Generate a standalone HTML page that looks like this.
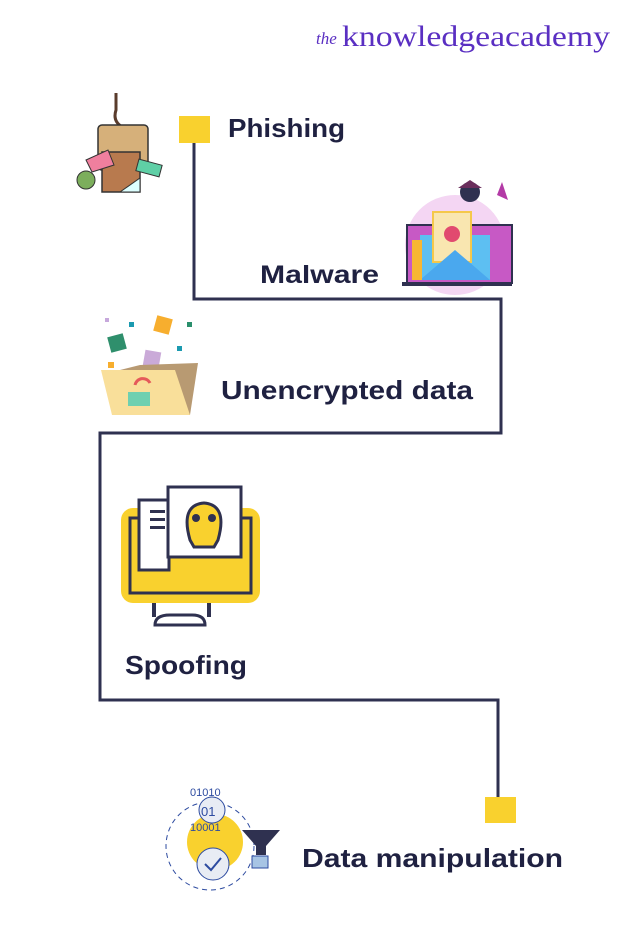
<!DOCTYPE html>
<html><head><meta charset="utf-8"><style>
html,body{margin:0;padding:0;background:#fff;}
svg{display:block;}
text{font-family:"Liberation Sans",sans-serif;font-weight:bold;fill:#1f2141;}
</style></head><body>
<svg width="624" height="937" viewBox="0 0 624 937" xmlns="http://www.w3.org/2000/svg">
<!-- logo -->
<text x="316" y="44" style="font-family:'Liberation Serif',serif;font-weight:normal;fill:#5a2fc2;font-size:17px;font-style:italic">the</text>
<text x="342" y="46" textLength="268" lengthAdjust="spacingAndGlyphs" style="font-family:'Liberation Serif',serif;font-weight:normal;fill:#5a2fc2;font-size:30px">knowledgeacademy</text>

<!-- connector -->
<path d="M194 143 V299 H501 V433 H100 V700 H498 V797" fill="none" stroke="#2f3150" stroke-width="3"/>
<rect x="179" y="116" width="31" height="27" fill="#f9d12e"/>
<rect x="485" y="797" width="31" height="26" fill="#f9d12e"/>

<!-- labels -->
<text x="228" y="137" font-size="26" textLength="117" lengthAdjust="spacingAndGlyphs">Phishing</text>
<text x="260" y="283" font-size="25" textLength="119" lengthAdjust="spacingAndGlyphs">Malware</text>
<text x="221" y="399" font-size="26" textLength="252" lengthAdjust="spacingAndGlyphs">Unencrypted data</text>
<text x="125" y="674" font-size="26" textLength="122" lengthAdjust="spacingAndGlyphs">Spoofing</text>
<text x="302" y="867" font-size="26" textLength="261" lengthAdjust="spacingAndGlyphs">Data manipulation</text>

<!-- phishing icon -->
<path d="M116 93 V110 Q112 122 124 128" fill="none" stroke="#5a3c2c" stroke-width="3"/>
<rect x="98" y="125" width="50" height="45" rx="4" fill="#d6b07a" stroke="#333" stroke-width="1.5"/>
<rect x="102" y="152" width="38" height="40" fill="#b87a4e" stroke="#333" stroke-width="1.5"/>
<path d="M86 160 L108 150 L114 165 L92 172Z" fill="#ef7f9e" stroke="#333"/>
<rect x="137" y="162" width="24" height="12" fill="#5fcfa6" stroke="#333" transform="rotate(15 149 168)"/>
<circle cx="86" cy="180" r="9" fill="#7cae5c" stroke="#333"/>
<path d="M120 192 L140 178 L140 192Z" fill="#dff" stroke="#333"/>

<!-- malware icon -->
<circle cx="455" cy="245" r="50" fill="#f4d6f3"/>
<rect x="407" y="225" width="105" height="58" fill="#c759c5" stroke="#2f3150" stroke-width="2"/>
<path d="M420 235 L490 235 L490 280 L420 280Z" fill="#5dbff2"/>
<rect x="433" y="212" width="38" height="50" fill="#f9e6b0" stroke="#f5c84a" stroke-width="2"/>
<circle cx="452" cy="234" r="8" fill="#e14a6f"/>
<path d="M420 280 L455 250 L490 280" fill="#4aa8ee"/>
<rect x="402" y="282" width="110" height="4" fill="#2f3150"/>
<circle cx="470" cy="192" r="10" fill="#2f3150"/>
<path d="M458 188 L482 188 L470 180Z" fill="#6a2e5c"/>
<path d="M497 195 L502 182 L508 200 Z" fill="#b33aa6"/>
<rect x="412" y="240" width="10" height="40" fill="#f7b733"/>

<!-- folder icon -->
<rect x="105" y="318" width="4" height="4" fill="#c7a8dc"/>
<rect x="129" y="322" width="5" height="5" fill="#1b9ab0"/>
<rect x="155" y="317" width="16" height="16" fill="#f7ae2e" transform="rotate(15 163 325)"/>
<rect x="187" y="322" width="5" height="5" fill="#2a8f6c"/>
<rect x="109" y="335" width="16" height="16" fill="#2f8f6c" transform="rotate(-15 117 343)"/>
<rect x="177" y="346" width="5" height="5" fill="#1b9ab0"/>
<rect x="144" y="351" width="16" height="16" fill="#caaad8" transform="rotate(10 152 359)"/>
<rect x="108" y="362" width="6" height="6" fill="#f7ae2e"/>
<path d="M120 370 L140 365 L198 363 L190 415 L140 415Z" fill="#b89a72"/>
<path d="M101 370 L175 370 L190 415 L112 415Z" fill="#f9df9a"/>
<path d="M135 385 A8 8 0 0 1 150 383" fill="none" stroke="#e55a5a" stroke-width="3"/>
<rect x="128" y="392" width="22" height="14" fill="#6fd0b0"/>

<!-- spoofing icon -->
<rect x="121" y="508" width="139" height="95" rx="12" fill="#f9d12e"/>
<rect x="130" y="518" width="121" height="75" fill="none" stroke="#2f3150" stroke-width="3"/>
<rect x="139" y="500" width="30" height="70" fill="#fff" stroke="#2f3150" stroke-width="3"/>
<rect x="168" y="487" width="73" height="70" fill="#fff" stroke="#2f3150" stroke-width="3"/>
<path d="M190 540 Q180 505 204 503 Q228 505 218 540 L214 547 L194 547Z" fill="#f9d12e" stroke="#2f3150" stroke-width="3"/>
<circle cx="196" cy="518" r="4" fill="#2f3150"/><circle cx="212" cy="518" r="4" fill="#2f3150"/>
<rect x="150" y="510" width="15" height="3" fill="#2f3150"/>
<rect x="150" y="518" width="15" height="3" fill="#2f3150"/>
<rect x="150" y="526" width="15" height="3" fill="#2f3150"/>
<rect x="152" y="603" width="4" height="14" fill="#2f3150"/>
<rect x="207" y="603" width="4" height="14" fill="#2f3150"/>
<path d="M155 625 Q155 615 170 615 L192 615 Q205 615 205 625Z" fill="none" stroke="#2f3150" stroke-width="3"/>

<!-- data manipulation icon -->
<circle cx="210" cy="846" r="44" fill="none" stroke="#2d4ba0" stroke-width="1" stroke-dasharray="5 4"/>
<circle cx="215" cy="842" r="28" fill="#f9d12e"/>
<circle cx="212" cy="810" r="13" fill="#e8ecf4" stroke="#2d4ba0"/>
<text x="201" y="816" style="font-size:13px;font-weight:normal;fill:#2d4ba0">01</text>
<text x="190" y="796" style="font-size:11px;font-weight:normal;fill:#2d4ba0">01010</text>
<text x="190" y="831" style="font-size:11px;font-weight:normal;fill:#2d4ba0">10001</text>
<circle cx="213" cy="864" r="16" fill="#e8ecf4" stroke="#2d4ba0"/>
<path d="M205 864 L211 870 L221 858" fill="none" stroke="#2d4ba0" stroke-width="2"/>
<path d="M242 830 L280 830 L266 846 L266 855 L256 855 L256 846Z" fill="#2f3150"/>
<rect x="252" y="856" width="16" height="12" fill="#a7c4e4" stroke="#2d4ba0"/>
</svg>
</body></html>
